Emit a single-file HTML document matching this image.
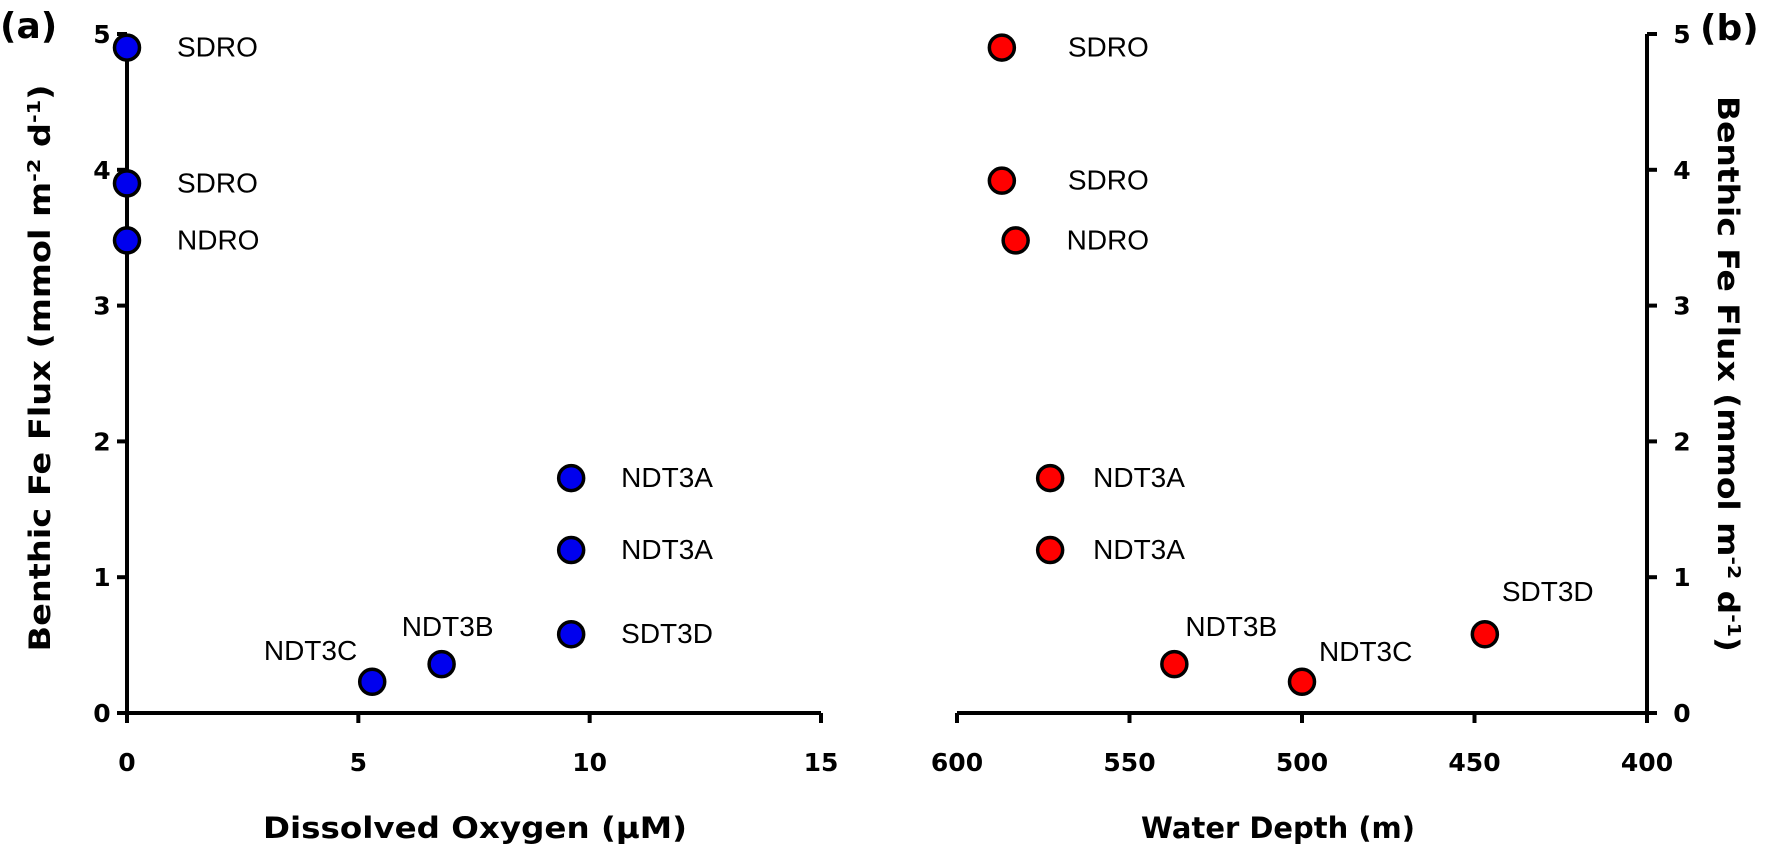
<!DOCTYPE html>
<html><head><meta charset="utf-8"><style>
html,body{margin:0;padding:0;background:#fff}
svg text{font-family:"DejaVu Sans","Liberation Sans",sans-serif}
.lbl{font-family:"Liberation Sans",sans-serif;font-size:28px;fill:#000}
.tick{font-weight:bold;font-size:25px}
.title{font-weight:bold;font-size:29px}
</style></head><body>
<svg id="chart" width="1768" height="846" viewBox="0 0 1768 846" xmlns="http://www.w3.org/2000/svg"></svg>
<script>
const siteNames = ["SDRO","SDRO","NDRO","NDT3A","NDT3A","SDT3D","NDT3C","NDT3B"];
const feFlux = [4.9,3.9,3.48,1.73,1.2,0.58,0.23,0.36];
const dissolvedOxygen = [0,0,0,9.6,9.6,9.6,5.3,6.8];
const depthNames = ["SDRO","SDRO","NDRO","NDT3A","NDT3A","NDT3B","NDT3C","SDT3D"];
const depthFlux = [4.9,3.92,3.48,1.73,1.2,0.36,0.23,0.58];
const waterDepth = [587,587,583,573,573,537,500,447];
const yTicks = [0,1,2,3,4,5];
const doTicks = [0,5,10,15];
const depthTicks = [600,550,500,450,400];

const NS="http://www.w3.org/2000/svg";
const svg=document.getElementById('chart');
function mk(tag,attrs,parent){const e=document.createElementNS(NS,tag);for(const k in attrs)e.setAttribute(k,attrs[k]);(parent||svg).appendChild(e);return e;}
const Y0=713, YU=135.8;
const RX=1647;
const yS=v=>Y0-v*YU;
const xA=v=>127+v*(821-127)/15;
const xB=v=>957+(600-v)*(RX-957)/200;

let g=mk('g',{});


mk('line',{x1:127,y1:yS(5),x2:127,y2:Y0,stroke:'#000','stroke-width':4},g);
yTicks.forEach(t=>{
  mk('line',{x1:117,y1:yS(t),x2:127,y2:yS(t),stroke:'#000','stroke-width':4},g);
  const tx=mk('text',{x:102,y:yS(t)+9,'text-anchor':'middle',class:'tick'},g);tx.textContent=t;
  
  
});
g=mk('g',{});


mk('line',{x1:127,y1:Y0,x2:xA(15),y2:Y0,stroke:'#000','stroke-width':4},g);
doTicks.forEach(t=>{
  mk('line',{x1:xA(t),y1:Y0,x2:xA(t),y2:Y0+10,stroke:'#000','stroke-width':4},g);
  const tx=mk('text',{x:xA(t),y:771,'text-anchor':'middle',class:'tick'},g);tx.textContent=t;
  
  
});
g=mk('g',{});


mk('line',{x1:RX,y1:yS(5),x2:RX,y2:Y0,stroke:'#000','stroke-width':4},g);
yTicks.forEach(t=>{
  mk('line',{x1:RX,y1:yS(t),x2:RX+10,y2:yS(t),stroke:'#000','stroke-width':4},g);
  const tx=mk('text',{x:1682,y:yS(t)+9,'text-anchor':'middle',class:'tick'},g);tx.textContent=t;
  
  
});
g=mk('g',{});


mk('line',{x1:xB(600),y1:Y0,x2:RX,y2:Y0,stroke:'#000','stroke-width':4},g);
depthTicks.forEach(t=>{
  mk('line',{x1:xB(t),y1:Y0,x2:xB(t),y2:Y0+10,stroke:'#000','stroke-width':4},g);
  const tx=mk('text',{x:xB(t),y:771,'text-anchor':'middle',class:'tick'},g);tx.textContent=t;
  
  
});
function title(txt,x,y,rot,len,name){
  const t=mk('text',{x:x,y:y,'text-anchor':'middle',class:'title',textLength:len,lengthAdjust:'spacingAndGlyphs',transform:rot?`rotate(${rot} ${x} ${y})`:''});
  t.innerHTML=txt;
  
  
}
title('Dissolved Oxygen (µM)',475,838,0,424,'left-x-axis-title');
title('Water Depth (m)',1278,838,0,274,'right-x-axis-title');
title('Benthic Fe Flux (mmol m<tspan dy="-10" font-size="18">-2</tspan><tspan dy="10"> d</tspan><tspan dy="-10" font-size="18">-1</tspan><tspan dy="10">)</tspan>',50,368,-90,567,'left-y-axis-title');
title('Benthic Fe Flux (mmol m<tspan dy="-10" font-size="18">-2</tspan><tspan dy="10"> d</tspan><tspan dy="-10" font-size="18">-1</tspan><tspan dy="10">)</tspan>',1718,374,90,556,'right-y-axis-title');
let p=mk('text',{x:0,y:38,'font-size':36,'font-weight':'bold','font-family':'Liberation Sans'});p.textContent='(a)';


p=mk('text',{x:1700,y:40,'font-size':36,'font-weight':'bold','font-family':'Liberation Sans'});p.textContent='(b)';



const offA=[[50,9,'start'],[50,9,'start'],[50,9,'start'],[50,9,'start'],[50,9,'start'],[50,9,'start'],[-15,-22,'end'],[6,-28,'middle']];
const offB=[[66,9,'start'],[66,9,'start'],[51,9,'start'],[43,9,'start'],[43,9,'start'],[11,-28,'start'],[17,-21,'start'],[17,-33,'start']];
function plot(names,xs,ys,xf,fill,off,nm){
  names.forEach((n,i)=>{
    const cx=xf(xs[i]),cy=yS(ys[i]);
    const c=mk('circle',{cx:cx,cy:cy,r:12.5,fill:fill,stroke:'#000','stroke-width':3.5});
    
    
    const t=mk('text',{x:cx+off[i][0],y:cy+off[i][1],'text-anchor':off[i][2],class:'lbl'});
    t.textContent=n;
    
    
  });
}
plot(siteNames,dissolvedOxygen,feFlux,xA,'#0000ee',offA,'oxygen');
plot(depthNames,waterDepth,depthFlux,xB,'#ff0000',offB,'depth');
</script>
</body></html>
